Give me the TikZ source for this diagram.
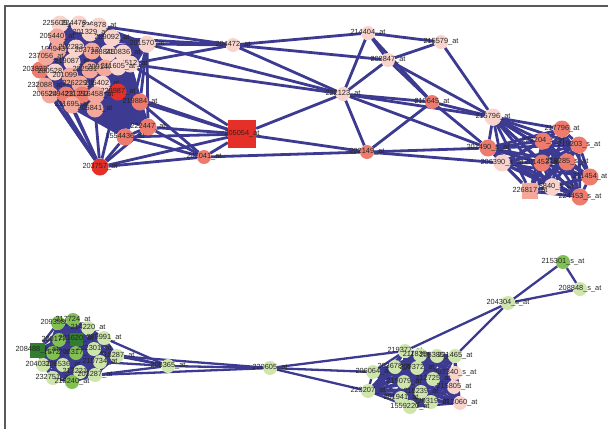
\documentclass[tikz,border=0pt]{standalone}
\usepackage{fontspec}
\setmainfont{Liberation Sans}
\usetikzlibrary{backgrounds}
\definecolor{rosaclaro}{RGB}{249,212,204}
\definecolor{rosa}{RGB}{244,168,155}
\definecolor{salmao}{RGB}{238,124,110}
\definecolor{vermelho}{RGB}{228,48,40}
\definecolor{verdeclaro}{RGB}{206,230,172}
\definecolor{verde}{RGB}{130,192,84}
\definecolor{verdeescuro}{RGB}{50,126,46}
\definecolor{aresta}{RGB}{60,58,145}
\definecolor{moldura}{RGB}{90,90,90}
\tikzset{
  vtx/.style={circle, inner sep=0pt, minimum size=17pt, fill=#1},
  vtxp/.style={circle, inner sep=0pt, minimum size=14pt, fill=#1},
  sqr/.style={rectangle, inner sep=0pt, minimum size=#1},
  lbl/.style={font=\fontsize{7.4}{7.4}\selectfont, text=black!85, inner sep=0pt},
  edge/.style={draw=aresta, line width=2.8pt},
  edgep/.style={draw=aresta, line width=2.3pt}
}

\begin{document}
\begin{tikzpicture}[x=1pt, y=-1pt]
\useasboundingbox (0,0) rectangle (608,429);

% Moldura
\draw[moldura, line width=1.6pt] (5,429) -- (5,6) -- (608,6);

% Modulo vermelho - grupo da esquerda
\foreach \n/\x/\y/\c/\t in {
a1/60/24/rosaclaro/225609\_at, a2/79/24/rosaclaro/224478\_at, a3/99/26/rosaclaro/226878\_at,
a4/57/37/rosa/205440\_at, a5/90/33/rosaclaro/201329\_at, a6/112/38/rosaclaro/209092\_at,
a7/147/44/rosaclaro/201570\_at, a8/58/50/rosa/168943\_at, a9/76/48/rosaclaro/202283\_at,
a10/92/51/rosa/203712\_at, a11/108/53/rosaclaro/208845\_at, a12/123/53/rosaclaro/210836\_at,
a13/72/62/rosaclaro/219087\_at, a14/130/64/rosaclaro/204512\_at, a15/40/70/salmao/203822\_at,
a16/55/72/rosaclaro/200528\_at, a17/70/76/rosa/201099\_at, a18/90/70/rosa/202531\_at,
a19/105/68/rosa/209146\_at, a20/118/67/rosaclaro/211605\_at, a21/45/86/rosa/232088\_at,
a22/80/84/rosa/226229\_at, a23/102/84/rosaclaro/205402\_at, a24/118/92/vermelho/229987\_at,
a25/50/95/rosa/206524\_at, a26/66/95/salmao/209423\_at, a27/82/95/salmao/211252\_at,
a28/96/95/rosa/216458\_at, a29/140/102/salmao/219884\_at, a30/72/105/rosa/211695\_at,
a31/95/109/rosa/205841\_at, a32/148/127/salmao/222447\_at, a33/125/137/salmao/1554436\_at,
a34/46/57/rosa/237056\_at}
  \node[vtx=\c, label={[lbl]center:\t}] (\n) at (\x,\y) {};

\node[vtx=vermelho, label={[lbl]center:203757\_at}] (r1) at (100,167) {};

% Modulo vermelho - centro
\foreach \n/\x/\y/\c/\t in {
b1/233/45/rosaclaro/204472\_at, b2/368/33/rosaclaro/214404\_at, b3/388/60/rosaclaro/208847\_at,
b4/441/42/rosaclaro/215579\_at, b5/343/94/rosaclaro/222123\_at, b7/204/157/salmao/202041\_at,
b8/367/152/salmao/202149\_at, b9/432/102/salmao/210645\_at}
  \node[vtxp=\c, label={[lbl]center:\t}] (\n) at (\x,\y) {};
\node[sqr=28pt, fill=vermelho, label={[lbl]center:205054\_at}] (b6) at (242,134) {};

% Modulo vermelho - grupo da direita
\foreach \n/\x/\y/\c/\t in {
c1/493/117/rosaclaro/215796\_at, c2/488/148/salmao/201490\_s\_at, c3/502/163/rosaclaro/206390\_x\_at,
c4/562/129/salmao/217796\_at, c5/543/141/salmao/222204\_s\_at, c6/579/145/salmao/219203\_s\_at,
c7/542/163/salmao/201453\_at, c8/567/162/salmao/218285\_s\_at, c9/590/177/salmao/211454\_at,
c10/552/187/rosaclaro/208840\_s\_at, c12/580/197/salmao/224453\_s\_at}
  \node[vtx=\c, label={[lbl]center:\t}] (\n) at (\x,\y) {};
\node[sqr=16pt, fill=rosa, label={[lbl]center:226817\_at}] (c11) at (530,191) {};

% Modulo verde - grupo da esquerda
\foreach \n/\x/\y/\c/\t in {
g1/58/323/verde/209398\_at, g2/73/320/verde/217724\_at, g3/88/328/verdeclaro/214220\_at,
g4/104/338/verdeclaro/209991\_at, g5/59/340/verde/220177\_at, g8/53/353/verde/211572\_at,
g9/76/353/verde/203317\_at, g10/94/349/verdeclaro/202301\_at, g11/117/356/verdeclaro/218287\_at,
g12/100/362/verdeclaro/210734\_at, g13/43/365/verdeclaro/204031\_at, g14/63/365/verdeclaro/206536\_at,
g15/80/372/verdeclaro/213221\_at, g16/95/375/verdeclaro/203287\_at, g17/53/378/verdeclaro/232751\_at,
g18/72/382/verde/218240\_at}
  \node[vtxp=\c, label={[lbl]center:\t}] (\n) at (\x,\y) {};
\node[sqr=13pt, fill=verdeescuro, label={[lbl]center:201620\_at}] (g6) at (76,339) {};
\node[sqr=15pt, fill=verdeescuro, label={[lbl]center:208488\_s\_at}] (g7) at (37,350) {};

% Modulo verde - centro e direita
\foreach \n/\x/\y/\c/\t in {
h1/168/366/verdeclaro/208365\_at, h2/270/368/verdeclaro/220605\_at,
m1/508/303/verdeclaro/204304\_s\_at, m2/563/262/verde/215301\_s\_at, m3/580/289/verdeclaro/208848\_s\_at,
k1/405/351/verdeclaro/219377\_at, k2/420/355/verdeclaro/211835\_at, k3/437/356/verdeclaro/205386\_at,
k4/455/356/verdeclaro/221465\_at, k5/373/372/verdeclaro/206064\_at, k6/395/367/verdeclaro/203678\_at,
k7/417/368/verdeclaro/209372\_at, k8/455/373/rosaclaro/207340\_s\_at, k9/404/382/verdeclaro/219079\_at,
k10/433/379/verdeclaro/212725\_at, k11/368/391/verdeclaro/223207\_at, k12/421/392/verdeclaro/218239\_at,
k13/454/387/rosaclaro/215805\_at, k14/401/398/verdeclaro/201941\_at, k15/431/402/verdeclaro/220319\_at,
k16/460/403/rosaclaro/213060\_at, k17/410/407/verdeclaro/1559220\_at}
  \node[vtxp=\c, label={[lbl]center:\t}] (\n) at (\x,\y) {};

% Arestas
\begin{pgfonlayer}{background}
\foreach \i [evaluate=\i as \k using int(\i+1)] in {1,...,33}
  \foreach \j in {\k,...,34}
    \draw[edge] (a\i) -- (a\j);
\foreach \i [evaluate=\i as \k using int(\i+1)] in {1,...,11}
  \foreach \j in {\k,...,12}
    \draw[edge] (c\i) -- (c\j);
\foreach \i [evaluate=\i as \k using int(\i+1)] in {1,...,17}
  \foreach \j in {\k,...,18}
    \draw[edgep] (g\i) -- (g\j);
\foreach \i [evaluate=\i as \k using int(\i+1)] in {1,...,16}
  \foreach \j in {\k,...,17}
    \draw[edgep] (k\i) -- (k\j);
\foreach \u/\v in {a3/b1, a6/b1, a7/b1, a14/b1, a7/b5, a14/b5,
  a24/b6, a29/b6, a32/b6, a33/b6, a14/b6, r1/b6,
  a32/b7, a29/b7, a33/b7, r1/b7,
  a15/r1, a21/r1, a25/r1, a30/r1, a31/r1, a26/r1, a33/r1, a32/r1, a24/r1,
  b1/b2, b1/b3, b1/b5, b7/b6, b7/b8, b6/b5, b6/b8,
  b5/b2, b5/b3, b5/b8, b5/b9, b5/c1, b5/c2,
  b2/b3, b2/b4, b3/b4, b2/b9, b3/b9, b4/c1, b3/c1,
  b8/b9, b8/c2, b8/c3, b9/c1, b9/c2}
  \draw[edge] (\u) -- (\v);
\foreach \u/\v in {g4/h1, g10/h1, g11/h1, g12/h1, g16/h1,
  g11/h2, g16/h2, h1/h2, h2/k1, h2/k5, h2/k11,
  k1/m1, k4/m1, m1/m2, m1/m3, m2/m3}
  \draw[edgep] (\u) -- (\v);
\end{pgfonlayer}

\end{tikzpicture}
\end{document}
